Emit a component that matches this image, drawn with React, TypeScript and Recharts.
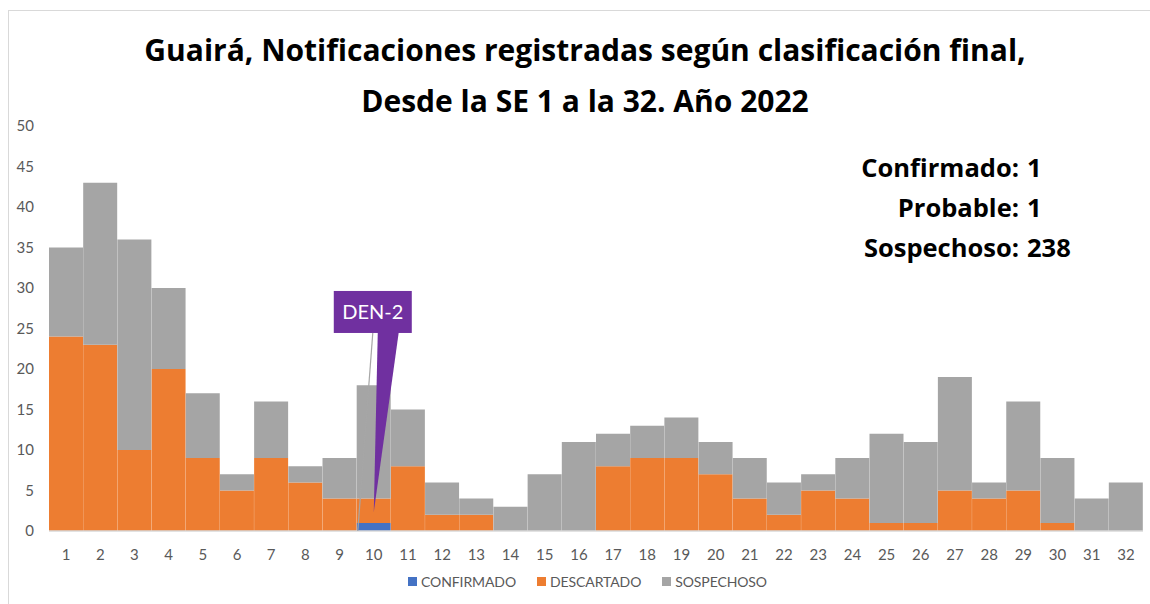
import React from "react";
import {
  BarChart,
  Bar,
  XAxis,
  YAxis,
  Legend,
  ReferenceDot,
} from "recharts";

// semanas epidemiológicas 1..32
const weeks = Array.from({ length: 32 }, (_, i) => String(i + 1));
const confirmado = [0, 0, 0, 0, 0, 0, 0, 0, 0, 1, 0, 0, 0, 0, 0, 0, 0, 0, 0, 0, 0, 0, 0, 0, 0, 0, 0, 0, 0, 0, 0, 0];
const descartado = [24, 23, 10, 20, 9, 5, 9, 6, 4, 3, 8, 2, 2, 0, 0, 0, 8, 9, 9, 7, 4, 2, 5, 4, 1, 1, 5, 4, 5, 1, 0, 0];
const sospechoso = [11, 20, 26, 10, 8, 2, 7, 2, 5, 14, 7, 4, 2, 3, 7, 11, 4, 4, 5, 4, 5, 4, 2, 5, 11, 10, 14, 2, 11, 8, 4, 6];
const yTicks = [0, 5, 10, 15, 20, 25, 30, 35, 40, 45, 50];

const titleLines = [
  "Guairá, Notificaciones registradas según clasificación final,",
  "Desde la SE 1 a la 32. Año 2022",
];
const summary = [
  { label: "Confirmado:", value: "1" },
  { label: "Probable:", value: "1" },
  { label: "Sospechoso:", value: "238" },
];

const data = weeks.map((w, i) => ({
  week: w,
  confirmado: confirmado[i],
  descartado: descartado[i],
  sospechoso: sospechoso[i],
}));

const FONT = "Lato, 'Open Sans', sans-serif";
const BOLD_FONT = "'Open Sans', Lato, sans-serif";

const legendItems = [
  { label: "CONFIRMADO", color: "#4472C4" },
  { label: "DESCARTADO", color: "#ED7D31" },
  { label: "SOSPECHOSO", color: "#A5A5A5" },
];

// callout "DEN-2" pointing at week 10
const Callout = (props: any) => {
  const { cx, cy } = props;
  const boxL = cx - 40;
  const boxR = cx + 38;
  const boxT = cy - 221;
  const boxB = cy - 179;
  return (
    <g>
      <line x1={cx - 1} y1={boxB} x2={cx - 16} y2={cy + 19} stroke="#A6A6A6" strokeWidth={1.2} />
      <rect x={boxL} y={boxT} width={boxR - boxL} height={boxB - boxT} fill="#7030A0" />
      <polygon points={`${cx},${cy} ${cx + 4},${boxB - 1} ${cx + 25},${boxB - 1}`} fill="#7030A0" />
      <text
        x={(boxL + boxR) / 2}
        y={(boxT + boxB) / 2 + 7}
        textAnchor="middle"
        fill="#fff"
        fontSize={20}
        fontFamily={FONT}
      >
        DEN-2
      </text>
    </g>
  );
};

export default function App() {
  return (
    <div
      style={{
        position: "absolute",
        left: 0,
        top: 0,
        width: 1150,
        height: 604,
        background: "#fff",
        overflow: "hidden",
        fontFamily: FONT,
      }}
    >
      <div
        style={{
          position: "absolute",
          left: 8,
          top: 10,
          width: 1160,
          height: 620,
          border: "1.5px solid #D9D9D9",
        }}
      />
      <div style={{ position: "absolute", left: 0, top: 0 }}>
        <BarChart
          width={1150}
          height={604}
          data={data}
          margin={{ top: 126, right: 7, left: 0, bottom: 0 }}
          barCategoryGap={0}
          barGap={0}
        >
          <XAxis
            dataKey="week"
            interval={0}
            tickLine={false}
            axisLine={{ stroke: "#D9D9D9", strokeWidth: 1.5 }}
            tick={{ fill: "#595959", fontSize: 15, fontFamily: FONT }}
            tickMargin={12}
            height={40}
          />
          <YAxis
            domain={[0, 50]}
            ticks={yTicks}
            interval={0}
            width={49}
            tickLine={false}
            axisLine={false}
            tick={{ fill: "#595959", fontSize: 15, fontFamily: FONT }}
            tickMargin={9}
          />
          <Legend
            verticalAlign="bottom"
            align="center"
            content={() => (
              <div
                style={{
                  height: 33,
                  display: "flex",
                  justifyContent: "center",
                  gap: 21,
                  fontSize: 14,
                  color: "#595959",
                  fontFamily: FONT,
                  paddingTop: 2,
                  boxSizing: "border-box",
                  marginLeft: 32,
                }}
              >
                {legendItems.map((it) => (
                  <div key={it.label} style={{ display: "flex", alignItems: "center", gap: 4, height: 16 }}>
                    <div style={{ width: 9, height: 9, background: it.color }} />
                    <span style={{ letterSpacing: -0.1 }}>{it.label}</span>
                  </div>
                ))}
              </div>
            )}
          />
          <Bar dataKey="confirmado" name="CONFIRMADO" stackId="a" fill="#4472C4" isAnimationActive={false} />
          <Bar dataKey="descartado" name="DESCARTADO" stackId="a" fill="#ED7D31" isAnimationActive={false} />
          <Bar dataKey="sospechoso" name="SOSPECHOSO" stackId="a" fill="#A5A5A5" isAnimationActive={false} />
          <ReferenceDot x="10" y={2.35} r={0} shape={Callout} ifOverflow="visible" />
        </BarChart>
      </div>
      <svg
        width={1150}
        height={604}
        style={{ position: "absolute", left: 0, top: 0, pointerEvents: "none" }}
      >
        {titleLines.map((t, i) => (
          <text
            key={t}
            x={585}
            y={61 + i * 51}
            textAnchor="middle"
            fontSize={30}
            fontWeight={700}
            fontFamily={BOLD_FONT}
            fill="#000"
          >
            {t}
          </text>
        ))}
        {summary.map((s, i) => (
          <g key={s.label} fontFamily={BOLD_FONT} fontWeight={700} fontSize={25.5} fill="#000">
            <text x={1019} y={177 + i * 40} textAnchor="end">
              {s.label}
            </text>
            <text x={1027} y={177 + i * 40}>
              {s.value}
            </text>
          </g>
        ))}
      </svg>
    </div>
  );
}
